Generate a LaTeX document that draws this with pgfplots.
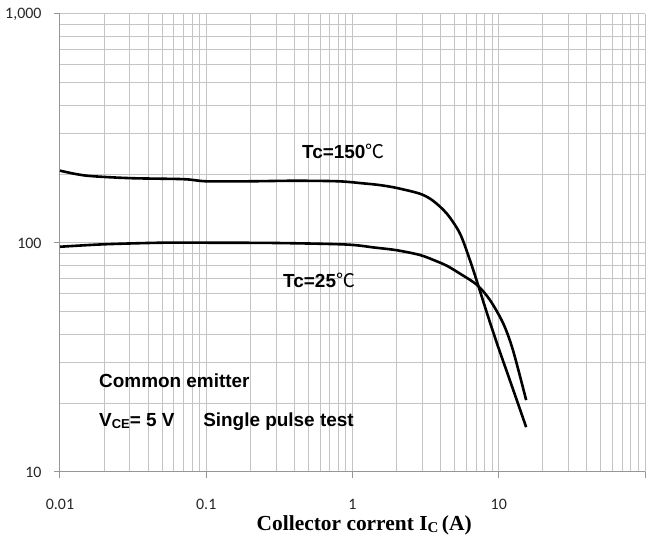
\documentclass[border=0pt]{standalone}
\usepackage{pgfplots}
\pgfplotsset{compat=1.18}
\usepackage{fontspec}
\setmainfont{Liberation Sans}
\newfontfamily\calibri{Carlito}
\newfontfamily\timesf{Liberation Serif}
\newfontfamily\cjk{Noto Sans CJK SC}
\definecolor{gridgray}{RGB}{196,196,196}
\definecolor{axgray}{RGB}{150,150,150}

\pgfplotstableread{
x y
0.01 207
0.015 197
0.03 192
0.07 190
0.1 186
0.2 186
0.4 187
0.8 186
1.2 182
1.54 179
2.0 174
2.9 164
3.55 153
4.43 134
5.43 110
6.36 84
7.2 66
8.3 49.5
9.7 36.6
11.9 25.2
15.4 15.7
}\tcahigh

\pgfplotstableread{
x y
0.01 96.3
0.02 98.7
0.05 100.3
0.1 100.3
0.3 100
0.9 98.5
1.42 95.5
2.0 93
2.9 88.6
3.8 83
4.43 79.5
5.43 73.5
7.1 65.6
8.7 56.4
10.7 44.7
12.5 34.1
15.4 20.6
}\tcalow

\begin{document}
\begin{tikzpicture}
\useasboundingbox (-60bp,-77bp) rectangle (592bp,472bp);
\begin{axis}[
  at={(0,0)}, anchor=south west,
  scale only axis, width=585bp, height=458bp,
  xmode=log, ymode=log,
  xmin=0.01, xmax=100, ymin=10, ymax=1000,
  axis lines*=left,
  axis line style={draw=axgray, line width=1bp},
  grid=both,
  major grid style={draw=gridgray, line width=1bp},
  minor grid style={draw=gridgray, line width=1bp},
  tick align=outside, major tick length=6bp, minor tick length=0pt,
  tick style={draw=axgray, line width=1bp},
  xtick={0.01,0.1,1,10,100}, xticklabels={0.01,0.1,1,10,{}},
  minor xtick={0.02,0.03,0.04,0.05,0.06,0.07,0.08,0.09,0.2,0.3,0.4,0.5,0.6,0.7,0.8,0.9,2,3,4,5,6,7,8,9,20,30,40,50,60,70,80,90},
  ytick={10,100,1000}, yticklabels={10,100,{1,000}},
  minor ytick={20,30,40,50,60,70,80,90,200,300,400,500,600,700,800,900},
  ticklabel style={font=\calibri\fontsize{16}{16}\selectfont, text=black!85},
  xticklabel style={anchor=base, yshift=-32bp},
  yticklabel style={anchor=east, xshift=-9bp},
  xlabel={\timesf\bfseries\fontsize{21.5}{21.5}\selectfont Collector corrent I\raisebox{-2bp}{\fontsize{15}{15}\selectfont C}\,(A)},
  xlabel style={at={(axis description cs:0.52,0)}, anchor=base, yshift=-59bp},
  clip=false,
]
\addplot[black, line width=2.6bp, smooth] table[x=x,y=y]{\tcahigh};
\addplot[black, line width=2.6bp, smooth] table[x=x,y=y]{\tcalow};

\node[anchor=base west, inner sep=0pt, font=\bfseries\fontsize{19}{19}\selectfont] at (axis cs:0.4516,235) {Tc=150{\mdseries\cjk ℃}};
\node[anchor=base west, inner sep=0pt, font=\bfseries\fontsize{19}{19}\selectfont] at (axis cs:0.335,64.2) {Tc=25{\mdseries\cjk ℃}};
\node[anchor=base west, inner sep=0pt, font=\bfseries\fontsize{19}{19}\selectfont] at (axis cs:0.01848,23.5) {Common emitter};
\node[anchor=base west, inner sep=0pt, font=\bfseries\fontsize{19}{19}\selectfont] at (axis cs:0.01848,15.73) {V\raisebox{-2bp}{\fontsize{13}{13}\selectfont CE}= 5 V};
\node[anchor=base west, inner sep=0pt, font=\bfseries\fontsize{19}{19}\selectfont] at (axis cs:0.0951,15.73) {Single pulse test};
\end{axis}
\end{tikzpicture}
\end{document}
